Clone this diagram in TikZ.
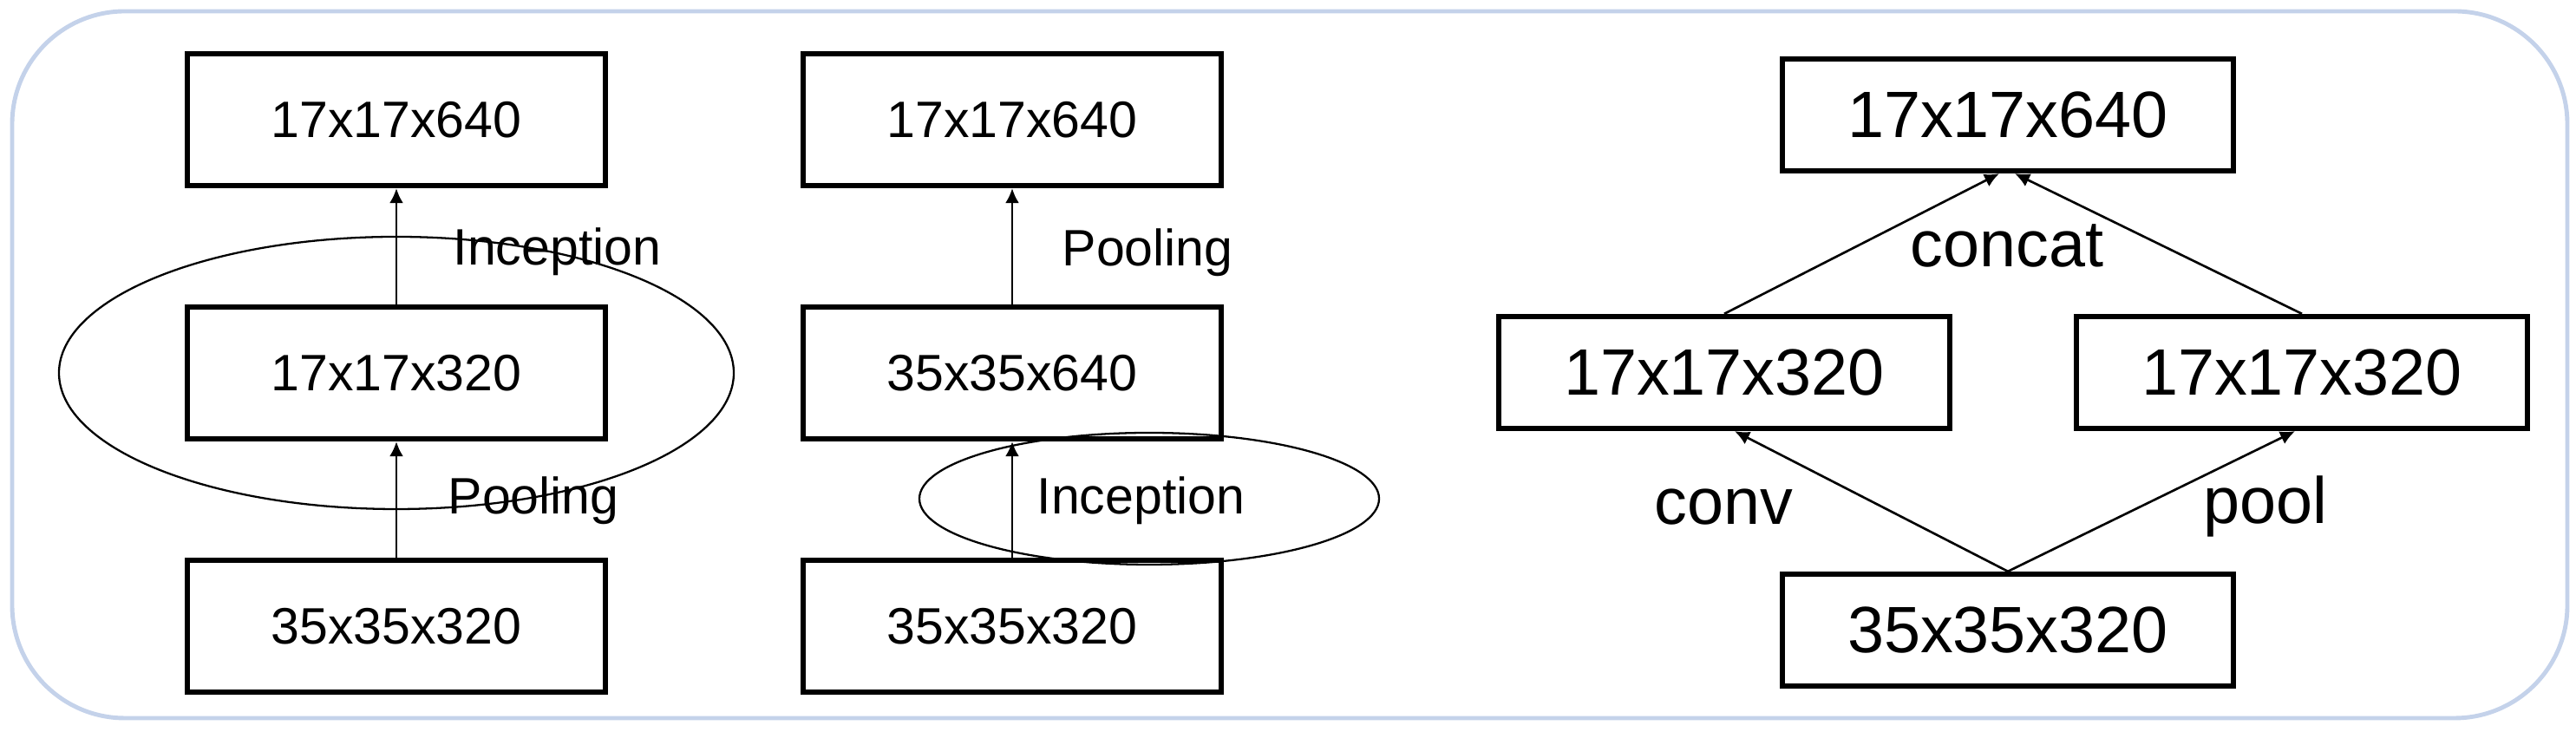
\documentclass[tikz,border=0pt]{standalone}
\usepackage{fontspec}
\setmainfont{Liberation Sans}
\usetikzlibrary{arrows.meta,positioning}
\definecolor{frame}{RGB}{196,210,234}
\tikzset{>={Latex[width=1.6mm,length=1.7mm]}}
\tikzset{box/.style={shape=rectangle, draw, line width=1.8pt, inner sep=0pt,
    minimum width=4.82cm, minimum height=1.52cm, font=\fontsize{16.8}{20}\selectfont}}
\tikzset{bigbox/.style={box, minimum width=5.2cm, minimum height=1.29cm,
    font=\fontsize{21.5}{26}\selectfont}}
\tikzset{txt/.style={inner sep=0pt, anchor=base west, font=\fontsize{16.8}{20}\selectfont}}
\tikzset{bigtxt/.style={txt, font=\fontsize{21.5}{26}\selectfont}}
\tikzset{flow/.style={->, line width=0.75pt}}
\tikzset{ring/.style={line width=0.65pt}}

\begin{document}
\begin{tikzpicture}[node distance=2.92cm, on grid]
    \useasboundingbox (0,0) rectangle (29.7,8.44);
    \draw[frame, line width=1.4pt, rounded corners=1.3cm] (0.14,0.16) rectangle (29.60,8.31);
    % left: pooling, then inception
    \node[box] (l01) at (4.57,1.22)                      {35x35x320};
    \node[box] (l02) [above=of l01]                      {17x17x320};
    \node[box] (l03) [above=of l02]                      {17x17x640};
    \draw[ring] (l02) ellipse (3.89cm and 1.57cm);
    \draw[flow] (l01) -- (l02);
    \draw[flow] (l02) -- (l03);
    \node[txt] (lpool) at (5.16,2.51)                    {Pooling};
    \node[txt] (lincep) at (5.22,5.38)                   {Inception};

    % middle: inception, then pooling
    \node[box] (m01) at (11.67,1.22)                     {35x35x320};
    \node[box] (m02) [above=of m01]                      {35x35x640};
    \node[box] (m03) [above=of m02]                      {17x17x640};
    \draw[ring] (13.25,2.69) ellipse (2.65cm and 0.76cm);
    \draw[flow] (m01) -- (m02);
    \draw[flow] (m02) -- (m03);
    \node[txt] (mincep) at (11.95,2.51)                  {Inception};
    \node[txt] (mpool) at (12.24,5.37)                   {Pooling};

    % right: conv and pool side by side
    \node[bigbox] (r01) at (23.15,1.175)                 {35x35x320};
    \node[bigbox] (r02) [above left=2.97cm and 3.27cm of r01]  {17x17x320};
    \node[bigbox] (r03) [above right=2.97cm and 3.39cm of r01] {17x17x320};
    \node[bigbox] (r04) [above=5.94cm of r01]            {17x17x640};
    \draw[flow] (r01.north) -- ([xshift=1.2mm]r02.south);
    \draw[flow] (r01.north) -- ([xshift=-0.8mm]r03.south);
    \draw[flow] (r02.north) -- ([xshift=-1mm]r04.south);
    \draw[flow] (r03.north) -- ([xshift=0.8mm]r04.south);
    \node[bigtxt] (conv) at (19.07,2.39)                 {conv};
    \node[bigtxt] (pool) at (25.40,2.40)                 {pool};
    \node[bigtxt] (concat) at (22.02,5.36)               {concat};
\end{tikzpicture}
\end{document}
